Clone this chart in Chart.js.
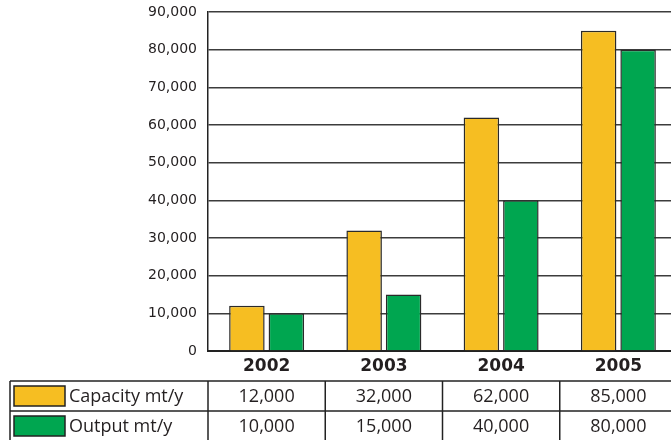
<!DOCTYPE html>
<html>
<head>
<meta charset="utf-8">
<script src="https://cdn.jsdelivr.net/npm/chart.js@4/dist/chart.umd.min.js"></script>
<style>
  html, body { margin: 0; padding: 0; background: #fff; overflow: hidden; }
  #wrap { position: absolute; left: 0; top: 0; width: 685px; height: 440px; }
</style>
</head>
<body>
<div id="wrap"><canvas id="chart" width="685" height="440"></canvas></div>
<script>
const years = ["2002", "2003", "2004", "2005"];
const capacity = [12000, 32000, 62000, 85000];
const output = [10000, 15000, 40000, 80000];
const seriesNames = ["Capacity mt/y", "Output mt/y"];
const yTicks = [0, 10000, 20000, 30000, 40000, 50000, 60000, 70000, 80000, 90000];

const yellow = "#F6BE22";
const green = "#00A650";
const ink = "#231f20";

const fmt = v => v.toLocaleString("en-US");

// tabla de datos bajo el eje x
const dataTable = {
    id: "dataTable",
    afterDraw(chart) {
        const ctx = chart.ctx;
        const x = chart.scales.x;
        const area = chart.chartArea;
        const colW = (area.right - area.left) / years.length;
        const top = 381, rowH = 30, left = 10;
        const rows = [capacity, output];
        const colors = [yellow, green];

        ctx.save();
        ctx.strokeStyle = "#222";
        ctx.lineWidth = 1.5;

        // líneas horizontales
        for (let r = 0; r <= rows.length; r++) {
            ctx.beginPath();
            ctx.moveTo(left, top + r * rowH);
            ctx.lineTo(chart.width, top + r * rowH);
            ctx.stroke();
        }
        // líneas verticales
        ctx.beginPath();
        ctx.moveTo(left, top);
        ctx.lineTo(left, top + rows.length * rowH);
        ctx.stroke();
        for (let i = 0; i <= years.length; i++) {
            const cx = area.left + i * colW;
            ctx.beginPath();
            ctx.moveTo(cx, top);
            ctx.lineTo(cx, top + rows.length * rowH);
            ctx.stroke();
        }

        ctx.font = "18px 'Open Sans'";
        ctx.fillStyle = ink;
        ctx.textBaseline = "middle";

        rows.forEach((vals, r) => {
            const cy = top + r * rowH + rowH / 2;
            // muestra de color
            ctx.fillStyle = colors[r];
            ctx.fillRect(14, cy - 10, 51, 20);
            ctx.strokeStyle = "#222";
            ctx.strokeRect(14, cy - 10, 51, 20);
            ctx.fillStyle = ink;
            ctx.textAlign = "left";
            ctx.fillText(seriesNames[r], 69, cy + 1);
            ctx.textAlign = "center";
            vals.forEach((v, i) => {
                ctx.fillText(fmt(v), x.getPixelForValue(i), cy + 1);
            });
        });
        ctx.restore();
    }
};

new Chart(document.getElementById("chart"), {
    type: "bar",
    data: {
        labels: years,
        datasets: [
            {
                label: seriesNames[0],
                data: capacity,
                backgroundColor: yellow,
                borderColor: "#2a2a2a",
                borderWidth: 1.5,
                categoryPercentage: 0.673,
                barPercentage: 0.9
            },
            {
                label: seriesNames[1],
                data: output,
                backgroundColor: green,
                borderColor: "#2a2a2a",
                borderWidth: 1.5,
                categoryPercentage: 0.673,
                barPercentage: 0.9
            }
        ]
    },
    options: {
        responsive: false,
        animation: false,
        layout: { padding: { top: 12, right: 8, left: 0, bottom: 0 } },
        plugins: {
            legend: { display: false },
            tooltip: { enabled: false }
        },
        scales: {
            x: {
                grid: { display: false, drawTicks: false },
                border: { display: true, color: "#222", width: 2 },
                ticks: {
                    padding: 5,
                    color: ink,
                    font: { family: "DejaVu Sans", size: 17, weight: "bold" }
                },
                afterFit(scale) { scale.height = 89; }
            },
            y: {
                min: 0,
                max: 90000,
                afterBuildTicks(scale) {
                    scale.ticks = yTicks.map(v => ({ value: v }));
                },
                grid: { color: "#3c3c3c", lineWidth: 1.5, drawTicks: false },
                border: { display: true, color: "#222", width: 1.5 },
                ticks: {
                    padding: 11,
                    color: ink,
                    font: { family: "DejaVu Sans", size: 14 },
                    callback: v => fmt(v)
                },
                afterFit(scale) {
                    scale.width = 208;
                    scale.paddingTop = 0;
                    scale.paddingBottom = 0;
                }
            }
        }
    },
    plugins: [dataTable]
});
</script>
</body>
</html>
